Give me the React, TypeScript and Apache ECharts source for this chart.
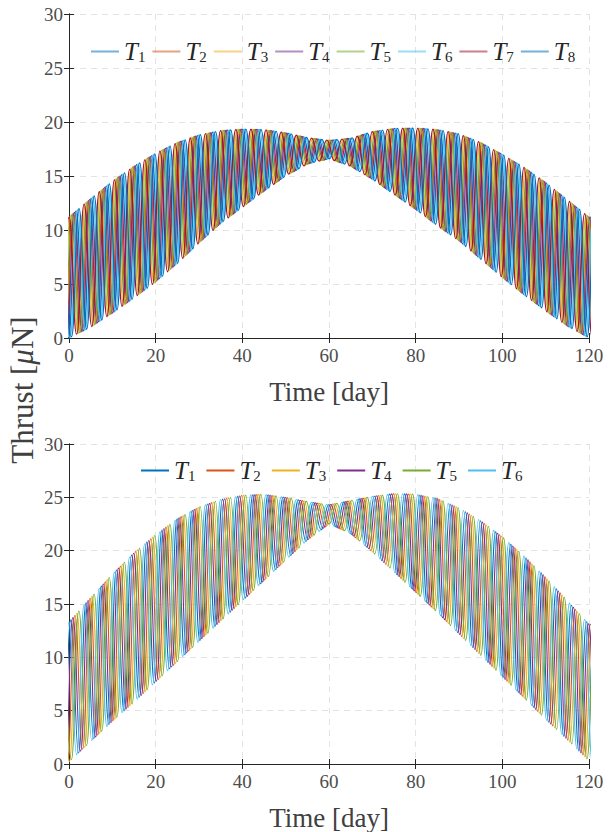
import React, { useEffect, useRef } from "react";
import * as echarts from "echarts";

// Envelope sample times (days) and envelopes
const ENV_T = [0, 5, 10, 15, 20, 25, 30, 35, 40, 45, 50, 55, 60, 65, 70, 75, 80, 85, 90, 95, 100, 105, 110, 115, 120];
const TOP_UPPER = [11.2, 12.9, 14.5, 15.9, 17.1, 18.1, 18.8, 19.2, 19.35, 19.3, 19.0, 18.55, 18.3, 18.5, 19.1, 19.4, 19.45, 19.3, 18.9, 18.1, 17.0, 15.8, 14.4, 12.8, 11.2];
const TOP_LOWER = [0, 1.0, 2.3, 3.7, 5.2, 6.9, 8.8, 10.6, 12.1, 13.6, 15.0, 16.1, 16.6, 15.9, 14.7, 13.3, 11.9, 10.4, 9.0, 7.3, 5.6, 4.0, 2.5, 1.1, 0];
const BOT_UPPER = [13.3, 15.6, 17.8, 19.8, 21.5, 23.0, 24.1, 24.8, 25.2, 25.3, 25.0, 24.6, 24.3, 24.7, 25.1, 25.35, 25.3, 24.9, 24.0, 22.8, 21.3, 19.5, 17.5, 15.3, 13.1];
const BOT_LOWER = [0.2, 2.1, 4.0, 5.8, 7.7, 9.6, 11.5, 13.4, 15.3, 17.2, 19.1, 21.0, 22.5, 21.6, 19.9, 18.0, 16.1, 14.2, 12.2, 10.2, 8.2, 6.2, 4.2, 2.3, 0.3];
const PERIOD_TOP = 3.5; // days, oscillation period
const PERIOD_BOT = 3.5;
// phase lag of each thruster, as a fraction of the period (strands are bundled)
const TOP_PHASE = [0.46, 0.28, 0.1, 0.36, 0.2, 0.56, 0.0, 0.66];
const BOT_PHASE = [0.13, 0.39, 0.52, 0.26, 0.65, 0.0];

const TOP_NAMES = ["T1", "T2", "T3", "T4", "T5", "T6", "T7", "T8"];
const BOT_NAMES = ["T1", "T2", "T3", "T4", "T5", "T6"];
const COLORS = ["#0072BD", "#D95319", "#EDB120", "#7E2F8E", "#77AC30", "#4DBEEE", "#A2142F", "#0072BD"];

function envAt(env: number[], t: number): number {
  if (t <= ENV_T[0]) return env[0];
  const last = ENV_T.length - 1;
  if (t >= ENV_T[last]) return env[last];
  let i = 0;
  while (ENV_T[i + 1] < t) i++;
  const f = (t - ENV_T[i]) / (ENV_T[i + 1] - ENV_T[i]);
  return env[i] + (env[i + 1] - env[i]) * f;
}

// Alternating peaks and troughs of one thruster, taken on the envelopes
function extrema(upper: number[], lower: number[], period: number, lag: number): number[][] {
  const phase = lag * period;
  const pts: number[][] = [];
  const half = period / 2;
  let j = 0;
  for (let t = phase - period; t <= 120 + period; t += half, j++) {
    const v = j % 2 === 0 ? envAt(upper, t) : envAt(lower, t);
    pts.push([+t.toFixed(3), +v.toFixed(3)]);
  }
  return pts;
}

const FONT = "'Liberation Serif', 'DejaVu Serif', serif";
const AXIS_COLOR = "#262626";
const LABEL_COLOR = "#4d4d4d";

function makeAxes(gi: number) {
  const xMain = {
    type: "value", gridIndex: gi, min: 0, max: 120, interval: 20, position: "bottom",
    axisLine: { show: true, lineStyle: { color: AXIS_COLOR, width: 1 } },
    axisTick: { show: true, inside: true, length: 5, lineStyle: { color: AXIS_COLOR } },
    axisLabel: { show: true, color: LABEL_COLOR, fontFamily: FONT, fontSize: 19, margin: 8 },
    splitLine: { show: true, lineStyle: { color: "#e3e3e3", type: [6, 5], width: 1 } },
    name: "Time [day]", nameLocation: "middle", nameGap: 40,
    nameTextStyle: { color: "#404040", fontFamily: FONT, fontSize: 27 },
  };
  const xTop = {
    type: "value", gridIndex: gi, min: 0, max: 120, interval: 20, position: "top",
    axisLine: { show: true, lineStyle: { color: AXIS_COLOR, width: 1 } },
    axisTick: { show: true, inside: true, length: 5, lineStyle: { color: AXIS_COLOR } },
    axisLabel: { show: false }, splitLine: { show: false },
  };
  const yMain = {
    type: "value", gridIndex: gi, min: 0, max: 30, interval: 5, position: "left",
    axisLine: { show: true, lineStyle: { color: AXIS_COLOR, width: 1 } },
    axisTick: { show: true, inside: true, length: 5, lineStyle: { color: AXIS_COLOR } },
    axisLabel: { show: true, color: LABEL_COLOR, fontFamily: FONT, fontSize: 19, margin: 6 },
    splitLine: { show: true, lineStyle: { color: "#e3e3e3", type: [6, 5], width: 1 } },
  };
  const yRight = {
    type: "value", gridIndex: gi, min: 0, max: 30, interval: 5, position: "right",
    axisLine: { show: true, lineStyle: { color: AXIS_COLOR, width: 1 } },
    axisTick: { show: true, inside: true, length: 5, lineStyle: { color: AXIS_COLOR } },
    axisLabel: { show: false }, splitLine: { show: false },
  };
  return { x: [xMain, xTop], y: [yMain, yRight] };
}

const legendRich = {
  i: { fontFamily: FONT, fontStyle: "italic", fontSize: 25, color: "#262626", lineHeight: 26, verticalAlign: "middle" },
  s: { fontFamily: FONT, fontSize: 15, color: "#262626", lineHeight: 12, verticalAlign: "bottom" },
};

export default function App() {
  const ref = useRef<HTMLDivElement>(null);
  useEffect(() => {
    if (!ref.current) return;
    const chart = echarts.init(ref.current, null, { renderer: "svg" });
    const a0 = makeAxes(0);
    const a1 = makeAxes(1);
    const series: any[] = [];
    TOP_NAMES.forEach((name, k) => {
      series.push({
        type: "line", name, xAxisIndex: 0, yAxisIndex: 0,
        data: extrema(TOP_UPPER, TOP_LOWER, PERIOD_TOP, TOP_PHASE[k]),
        smooth: 0.5, showSymbol: false, symbol: "none", clip: true,
        lineStyle: { width: 1.3, color: COLORS[k] }, itemStyle: { color: COLORS[k] },
      });
    });
    BOT_NAMES.forEach((name, k) => {
      series.push({
        type: "line", name: name + " ", xAxisIndex: 2, yAxisIndex: 2,
        data: extrema(BOT_UPPER, BOT_LOWER, PERIOD_BOT, BOT_PHASE[k]),
        smooth: 0.5, showSymbol: false, symbol: "none", clip: true,
        lineStyle: { width: 1.1, color: COLORS[k] }, itemStyle: { color: COLORS[k] },
      });
    });
    const fmt = (name: string) => `{i|T}{s|${name.trim().slice(1)}}`;
    chart.setOption({
      animation: false,
      backgroundColor: "#ffffff",
      grid: [
        { left: 69, top: 14, width: 520, height: 324, show: false },
        { left: 69, top: 444, width: 520, height: 324, show: false },
      ],
      xAxis: [...a0.x, ...a1.x],
      yAxis: [...a0.y, ...a1.y],
      legend: [
        {
          data: TOP_NAMES.map((n, k) => ({ name: n, itemStyle: { color: COLORS[k], opacity: 0.55 } })),
          left: 86, top: 34, icon: "rect", itemWidth: 28, itemHeight: 2, itemGap: 7,
          formatter: fmt, textStyle: { rich: legendRich },
        },
        {
          data: BOT_NAMES.map((n, k) => ({ name: n + " ", itemStyle: { color: COLORS[k] } })),
          left: 136, top: 453, icon: "rect", itemWidth: 28, itemHeight: 2, itemGap: 11,
          formatter: fmt, textStyle: { rich: legendRich },
        },
      ],
      graphic: [
        {
          type: "text", x: 22, y: 390, rotation: Math.PI / 2,
          style: {
            text: "Thrust [{i|μ}N]", fill: "#404040", font: `31px ${FONT}`,
            align: "center", verticalAlign: "middle",
            rich: { i: { fontStyle: "italic", fontFamily: FONT, fontSize: 31, fill: "#404040" } },
          },
        },
      ],
      series,
    });
    return () => chart.dispose();
  }, []);
  return <div ref={ref} style={{ position: "fixed", left: 0, top: 0, width: 608, height: 832, background: "#fff" }} />;
}
